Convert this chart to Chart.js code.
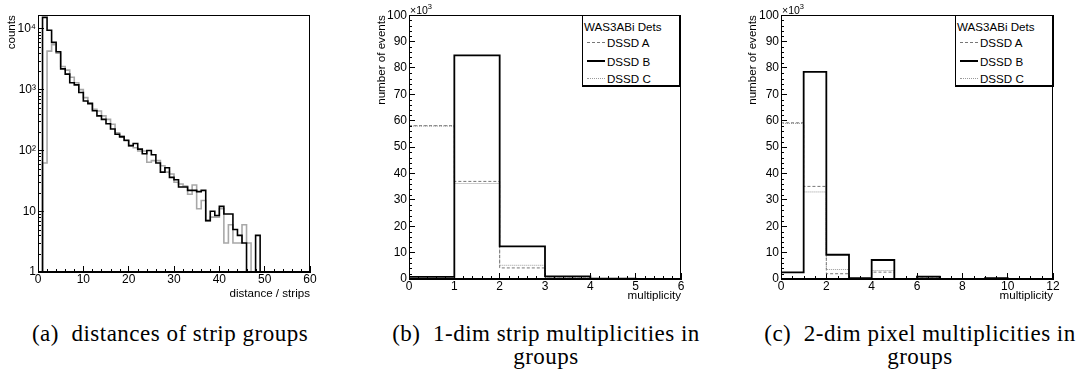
<!DOCTYPE html>
<html>
<head>
<meta charset="utf-8">
<script src="https://cdn.jsdelivr.net/npm/chart.js@4.4.0/dist/chart.umd.min.js"></script>
<style>
body { margin: 0; background: #fff; width: 1080px; height: 376px; position: relative; overflow: hidden; font-family: "Liberation Sans", Arial, sans-serif; color: #000; }
.panel { position: absolute; top: 0; }
.cap { position: absolute; width: 400px; text-align: center; font-family: "Liberation Serif", serif; font-size: 23px; letter-spacing: 0.5px; line-height: 23px; }
.legend { position: absolute; top: 15px; width: 96px; height: 69px; border: 1px solid #000; border-right-width: 2px; border-bottom-width: 2px; background: #fff; font-size: 11.6px; }
.legend div { position: absolute; white-space: nowrap; line-height: 13px; }
.legend .smp { position: absolute; left: 4px; width: 18px; top: 6px; height: 0; }
.exp { position: absolute; top: 2px; font-size: 10.5px; }
.exp sup { font-size: 7.5px; }
</style>
</head>
<body>
<canvas id="distChart" class="panel" style="left:0px" width="330" height="310"></canvas>
<canvas id="stripChart" class="panel" style="left:360px" width="340" height="310"></canvas>
<canvas id="pixelChart" class="panel" style="left:720px" width="360" height="310"></canvas>

<div class="exp" style="left:410px">×10<sup>3</sup></div>
<div class="exp" style="left:782px">×10<sup>3</sup></div>

<div class="legend" style="left:582px">
  <div style="left:1px;top:4px">WAS3ABi Dets</div>
  <div style="left:0;top:20px;width:96px"><span class="smp" style="border-top:1px dashed #777"></span><span style="position:absolute;left:24px">DSSD A</span></div>
  <div style="left:0;top:39px;width:96px"><span class="smp" style="border-top:2px solid #000;top:5px"></span><span style="position:absolute;left:24px">DSSD B</span></div>
  <div style="left:0;top:56px;width:96px"><span class="smp" style="border-top:1px dotted #999"></span><span style="position:absolute;left:24px">DSSD C</span></div>
</div>
<div class="legend" style="left:955px">
  <div style="left:1px;top:4px">WAS3ABi Dets</div>
  <div style="left:0;top:20px;width:96px"><span class="smp" style="border-top:1px dashed #777"></span><span style="position:absolute;left:24px">DSSD A</span></div>
  <div style="left:0;top:39px;width:96px"><span class="smp" style="border-top:2px solid #000;top:5px"></span><span style="position:absolute;left:24px">DSSD B</span></div>
  <div style="left:0;top:56px;width:96px"><span class="smp" style="border-top:1px dotted #999"></span><span style="position:absolute;left:24px">DSSD C</span></div>
</div>

<div class="cap" style="left:-30px;top:322px">(a)&nbsp; distances of strip groups</div>
<div class="cap" style="left:346px;top:322px">(b)&nbsp; 1-dim strip multiplicities in<br>groups</div>
<div class="cap" style="left:720px;top:322px">(c)&nbsp; 2-dim pixel multiplicities in<br>groups</div>

<script>
// (a) distances of strip groups, one value per strip bin 0..59
const distBlack = [0, 15500, 9500, 6000, 4200, 2200, 1800, 1300, 1200, 900,
  650, 590, 450, 370, 325, 275, 225, 185, 167, 147,
  120, 130, 105, 88, 100, 85, 62, 44, 52, 36,
  33, 25, 25, 22, 22, 21, 22, 7, 10, 8.5,
  12, 9, 9, 5, 4, 3, 0, 0, 4, 0,
  0, 0, 0, 0, 0, 0, 0, 0, 0, 0];
const distGray = [0, 62, 4300, 5500, 4000, 2400, 2100, 1600, 1300, 1000,
  740, 610, 475, 445, 370, 325, 270, 196, 175, 144,
  119, 111, 98, 98, 64, 68, 68, 56, 44, 41,
  30, 28, 26, 19, 27, 11, 15, 7, 8, 8,
  11, 3, 6, 3, 3, 6, 3, 0, 0, 0,
  0, 0, 0, 0, 0, 0, 0, 0, 0, 0];
const logTicks = [1, 10, 100, 1000, 10000];
const logLabels = ['1', '10', '10²', '10³', '10⁴'];

// (b) 1-dim strip multiplicities, x10^3 events, multiplicity 0..5
const stripA = [58.1, 37.0, 4.2, 0.8, 0.1, 0];
const stripB = [0.8, 84.8, 12.4, 1.0, 0.15, 0];
const stripC = [58.0, 36.2, 5.2, 0.5, 0.1, 0];

// (c) 2-dim pixel multiplicities, x10^3 events, multiplicity 0..11
const pixelA = [59.2, 35.1, 2.0, 0.1, 2.6, 0, 0.4, 0.05, 0, 0, 0, 0];
const pixelB = [2.5, 78.5, 9.2, 0.3, 7.2, 0, 0.9, 0.05, 0, 0.3, 0, 0];
const pixelC = [59.0, 33.0, 3.6, 0.1, 3.2, 0, 0.5, 0.05, 0, 0.1, 0, 0];

Chart.defaults.font.family = '"Liberation Sans", Arial, sans-serif';
Chart.defaults.font.size = 12;
Chart.defaults.color = '#000';
Chart.defaults.animation = false;

// histogram outline: one point per left bin edge + closing edge
function toSteps(counts, floor) {
    const pts = counts.map((c, i) => ({ x: i, y: c > 0 ? c : floor }));
    pts.push({ x: counts.length, y: pts[pts.length - 1].y });
    return pts;
}

function histSet(label, counts, color, width, dash, floor) {
    return {
        label,
        data: toSteps(counts, floor),
        borderColor: color,
        borderWidth: width,
        borderDash: dash,
        stepped: true,
        pointRadius: 0,
        fill: false
    };
}

function range(from, to, step) {
    const out = [];
    for (let v = from; v <= to + 1e-9; v += step) out.push(+v.toFixed(6));
    return out;
}

// ROOT style frame and minor ticks pointing inwards
const frameTicks = {
    id: 'frameTicks',
    afterDraw(chart, args, opts) {
        const { ctx, chartArea: a, scales: { x, y } } = chart;
        ctx.save();
        ctx.strokeStyle = '#000';
        ctx.lineWidth = 1;
        ctx.strokeRect(Math.round(a.left) + 0.5, Math.round(a.top) + 0.5,
            Math.round(a.right - a.left) - 1, Math.round(a.bottom - a.top) - 1);
        ctx.beginPath();
        (opts.xMinor || []).forEach(v => {
            const px = Math.round(x.getPixelForValue(v)) + 0.5;
            ctx.moveTo(px, a.bottom);
            ctx.lineTo(px, a.bottom - opts.len);
        });
        (opts.yMinor || []).forEach(v => {
            const py = Math.round(y.getPixelForValue(v)) + 0.5;
            ctx.moveTo(a.left, py);
            ctx.lineTo(a.left + opts.len, py);
        });
        ctx.stroke();
        ctx.restore();
    }
};

function axisGrid() {
    return { drawOnChartArea: false, drawTicks: true, tickLength: -6, tickColor: '#000', tickWidth: 1 };
}

function buildChart(id, cfg) {
    return new Chart(document.getElementById(id), {
        type: 'line',
        data: { datasets: cfg.datasets },
        options: {
            responsive: false,
            layout: { padding: cfg.padding },
            plugins: {
                legend: { display: false },
                tooltip: { enabled: false },
                frameTicks: cfg.minor
            },
            scales: {
                x: {
                    type: 'linear',
                    min: 0,
                    max: cfg.xMax,
                    grid: axisGrid(),
                    border: { color: '#000', width: 1 },
                    ticks: { stepSize: cfg.xStep, padding: 6, maxRotation: 0, autoSkip: false },
                    title: { display: true, text: cfg.xTitle, align: 'end', font: { size: 11.6 }, padding: { top: 0, bottom: cfg.xTitlePad } },
                    afterFit: s => { s.height = cfg.xHeight; }
                },
                y: cfg.y
            }
        },
        plugins: [frameTicks]
    });
}

// (a)
const decadeMinor = [];
logTicks.slice(0, -1).forEach(d => { for (let k = 2; k <= 9; k++) decadeMinor.push(d * k); });
buildChart('distChart', {
    datasets: [
        histSet('black', distBlack, '#000', 1.6, [], 0.3),
        histSet('gray', distGray, '#a8a8a8', 1.6, [], 0.3)
    ],
    padding: { left: 0, top: 8, right: 20, bottom: 0 },
    xMax: 60, xStep: 10, xTitle: 'distance / strips', xTitlePad: 9, xHeight: 38,
    minor: { len: 3, xMinor: range(0, 60, 2).filter(v => v % 10 !== 0), yMinor: decadeMinor },
    y: {
        type: 'logarithmic',
        min: 1,
        max: 16800,
        grid: axisGrid(),
        border: { color: '#000', width: 1 },
        afterBuildTicks: s => { s.ticks = logTicks.map(v => ({ value: v })); },
        ticks: { padding: 8, callback: v => logLabels[logTicks.indexOf(v)] },
        title: { display: true, text: 'counts', align: 'end', font: { size: 11.6 }, padding: { top: 5, bottom: 0 } },
        afterFit: s => { s.width = 38; }
    }
});

function multYAxis(width, titlePad) {
    return {
        type: 'linear',
        min: 0,
        max: 100,
        grid: axisGrid(),
        border: { color: '#000', width: 1 },
        ticks: { stepSize: 10, padding: 8 },
        title: { display: true, text: 'number of events', align: 'end', font: { size: 11.6 }, padding: { top: titlePad, bottom: 0 } },
        afterFit: s => { s.width = width; }
    };
}

// (b)
buildChart('stripChart', {
    datasets: [
        histSet('DSSD B', stripB, '#000', 1.8, [], 0),
        histSet('DSSD A', stripA, '#777', 1, [3, 2], 0),
        histSet('DSSD C', stripC, '#999', 1, [1, 1], 0)
    ],
    padding: { left: 0, top: 15, right: 19, bottom: 0 },
    xMax: 6, xStep: 1, xTitle: 'multiplicity', xTitlePad: 7, xHeight: 31,
    minor: { len: 3, xMinor: range(0, 6, 0.2).filter(v => Math.abs(v - Math.round(v)) > 1e-6), yMinor: range(0, 100, 2).filter(v => v % 10 !== 0) },
    y: multYAxis(49, 15)
});

// (c)
buildChart('pixelChart', {
    datasets: [
        histSet('DSSD B', pixelB, '#000', 1.8, [], 0),
        histSet('DSSD A', pixelA, '#777', 1, [3, 2], 0),
        histSet('DSSD C', pixelC, '#999', 1, [1, 1], 0)
    ],
    padding: { left: 0, top: 15, right: 27, bottom: 0 },
    xMax: 12, xStep: 2, xTitle: 'multiplicity', xTitlePad: 7, xHeight: 31,
    minor: { len: 3, xMinor: range(0, 12, 0.5).filter(v => v % 2 !== 0), yMinor: range(0, 100, 2).filter(v => v % 10 !== 0) },
    y: multYAxis(61, 26)
});
</script>
</body>
</html>
